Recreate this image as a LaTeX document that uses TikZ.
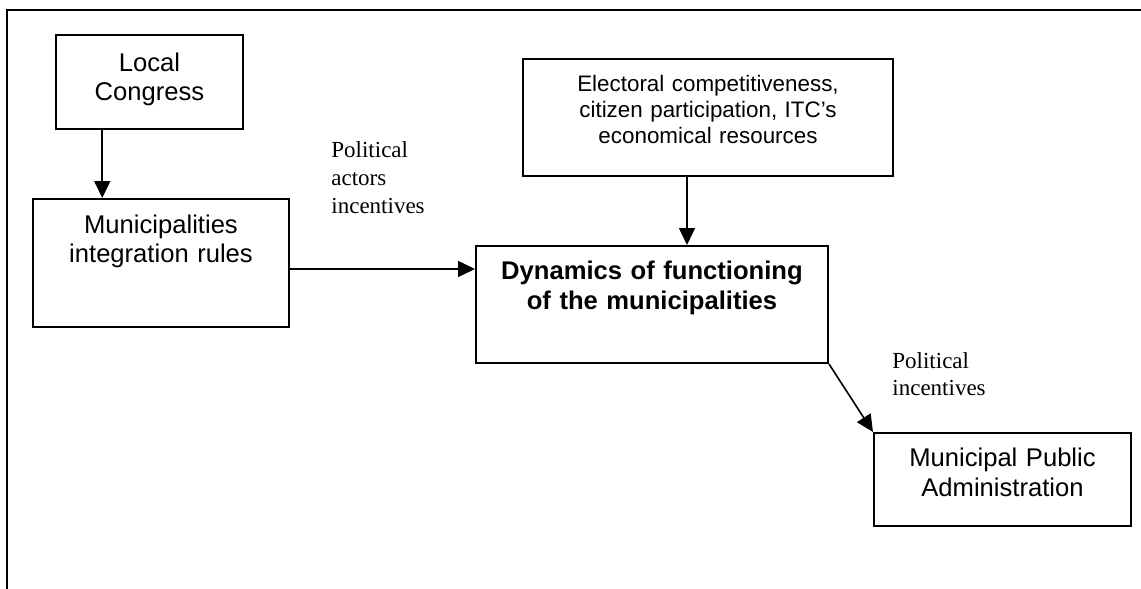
\documentclass[tikz,border=0pt]{standalone}
\usepackage{fontspec}
\setmainfont{Liberation Serif}
\setsansfont{Liberation Sans}
\usetikzlibrary{arrows.meta,calc}
\tikzset{
  box/.style={draw,line width=1pt,inner sep=0pt,align=center,font=\sffamily\fontsize{12.8pt}{14.8pt}\selectfont},
  arr/.style={line width=0.8pt,-{Triangle[length=8.5pt,width=8pt]}},
  lbl/.style={inner sep=0pt,anchor=base west,align=left,text width=70pt,font=\fontsize{11.5pt}{14pt}\selectfont}
}
\begin{document}
\begin{tikzpicture}[x=0.5pt,y=-0.5pt]
\useasboundingbox (0,0) rectangle (1141,589);
% frame
\draw[line width=1pt] (7,589) -- (7,10) -- (1141,10);
% boxes
\node[box,anchor=north west,text width=93.5pt,text height=18pt,text depth=29pt] (congress) at (55,34) {Local\\Congress};
\node[box,anchor=north west,text width=128pt,text height=17pt,text depth=47pt] (rules) at (32,198) {Municipalities\\integration rules};
\node[box,anchor=north west,text width=185pt,text height=16pt,text depth=42.5pt,font=\sffamily\fontsize{11.2pt}{13pt}\selectfont] (factors) at (522,58) {Electoral competitiveness,\\citizen participation, ITC’s\\economical resources};
\node[box,anchor=north west,text width=176pt,text height=16.5pt,text depth=42pt,font=\sffamily\bfseries\fontsize{12.8pt}{15pt}\selectfont] (dynamics) at (475,245) {Dynamics of functioning\\of the municipalities};
\node[box,anchor=north west,text width=128.5pt,text height=16.5pt,text depth=30pt,font=\sffamily\fontsize{12.8pt}{15pt}\selectfont] (admin) at (873,432) {Municipal Public\\Administration};
% labels
\node[lbl] (actors) at (331,157) {Political\\actors\\incentives};
\node[lbl,font=\fontsize{11.5pt}{13.5pt}\selectfont] (incent) at (892,368) {Political\\incentives};
% arrows
\coordinate (c1) at ($(congress.south west)!0.25!(congress.south east)$);
\draw[arr] (c1) -- (c1 |- rules.north);
\draw[arr] ([yshift=-3pt]rules.east) -- ([yshift=-3pt]rules.east -| dynamics.west);
\draw[arr] ([xshift=-10.5pt]factors.south) -- ([xshift=-10.5pt]factors.south |- dynamics.north);
\draw[arr] (dynamics.south east) -- (admin.north west);
\end{tikzpicture}
\end{document}
